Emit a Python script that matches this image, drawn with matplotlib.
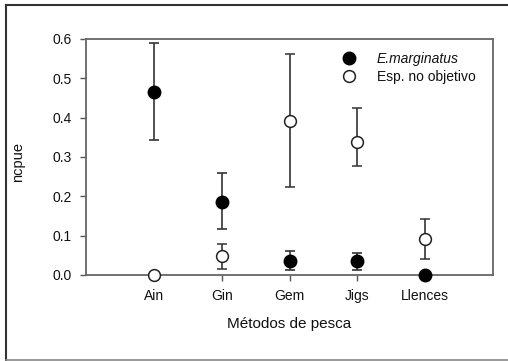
import numpy as np
import matplotlib
matplotlib.use("Agg")
import matplotlib.pyplot as plt
from matplotlib.lines import Line2D

plt.rcParams['font.family'] = ['Liberation Sans', 'DejaVu Sans']

methods = ["Ain", "Gin", "Gem", "Jigs", "Llences"]

# E. marginatus (filled)
emarg = [0.465, 0.186, 0.036, 0.036, 0.0]
emarg_lo = [0.343, 0.116, 0.013, 0.013, 0.0]
emarg_hi = [0.589, 0.259, 0.061, 0.057, 0.0]

# Esp. no objetivo (open)
noobj = [0.0, 0.048, 0.392, 0.339, 0.092]
noobj_lo = [0.0, 0.015, 0.225, 0.277, 0.040]
noobj_hi = [0.0, 0.079, 0.562, 0.425, 0.142]

W, H = 508, 361
fig = plt.figure(figsize=(W/100, H/100), dpi=100)
ax = fig.add_axes([86/W, 86/H, 407/W, 236/H])

x = np.arange(1, len(methods)+1)
ecol = "#333333"

def errs(v, lo, hi):
    v = np.array(v)
    return [v-np.array(lo), np.array(hi)-v]

ax.errorbar(x, emarg, yerr=errs(emarg, emarg_lo, emarg_hi), fmt="o", ms=9,
            mfc="black", mec="black", ecolor=ecol, elinewidth=1.2, capsize=3.5,
            capthick=1.2, zorder=3, clip_on=False)
ax.errorbar(x, noobj, yerr=errs(noobj, noobj_lo, noobj_hi), fmt="o", ms=8.5,
            mfc="white", mec="#222222", mew=1.1, ecolor=ecol, elinewidth=1.2,
            capsize=3.5, capthick=1.2, zorder=4, clip_on=False)

ax.set_xlim(0, 6)
ax.set_ylim(0, 0.6)
ax.set_xticks(x)
ax.set_xticklabels(methods)
ax.set_yticks(np.arange(0, 0.61, 0.1))
ax.set_yticklabels(["%.1f" % v for v in np.arange(0, 0.61, 0.1)])
ax.tick_params(axis="both", direction="out", length=4, width=1, color="#555555",
               labelsize=10, labelcolor="#111111", pad=6)
for s in ax.spines.values():
    s.set_color("#666666")
    s.set_linewidth(1.3)

ax.set_xlabel("Métodos de pesca", fontsize=11, color="#111111", labelpad=10)
ax.set_ylabel("ncpue", fontsize=10.5, color="#111111")
ax.yaxis.set_label_coords(-0.15, 0.48)

handles = [
    Line2D([], [], ls="none", marker="o", ms=9, mfc="black", mec="black"),
    Line2D([], [], ls="none", marker="o", ms=8.5, mfc="white", mec="#222222", mew=1.1),
]
leg = ax.legend(handles, ["E.marginatus", "Esp. no objetivo"], loc="upper left",
                bbox_to_anchor=(0.598, 1.0), frameon=False, fontsize=10,
                handletextpad=1.5, labelspacing=0.3, handlelength=1.0)
leg.get_texts()[0].set_style("italic")
for t in leg.get_texts():
    t.set_color("#111111")

# outer frame of the figure
fig.add_artist(Line2D([6/W, 1], [1-5/H, 1-5/H], color="#333333", lw=1.5))
fig.add_artist(Line2D([6/W, 6/W], [1-5/H, 1/H], color="#333333", lw=1.5))
fig.add_artist(Line2D([6/W, 1], [1.5/H, 1.5/H], color="#888888", lw=1.2))

fig.savefig("out.png", dpi=100)
